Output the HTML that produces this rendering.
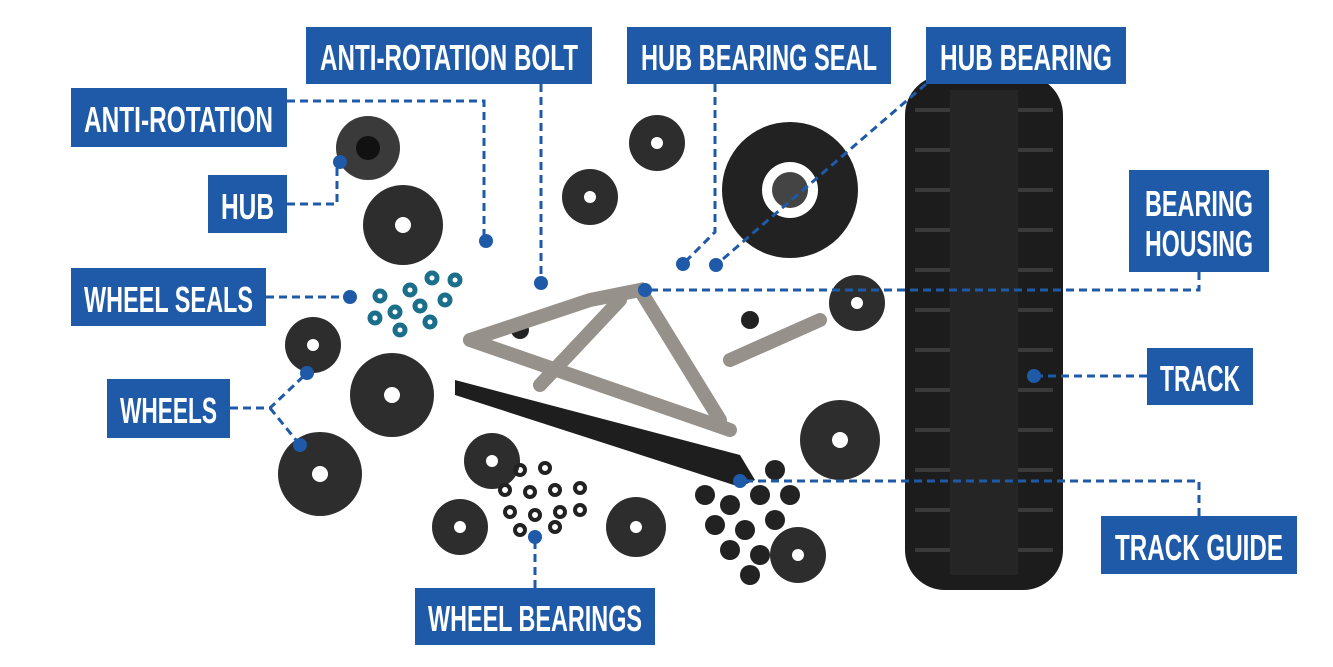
<!DOCTYPE html>
<html><head><meta charset="utf-8"><style>
html,body{margin:0;padding:0;background:#fff;}
svg{display:block}
.lb{font-family:"Liberation Sans Narrow","Liberation Sans",sans-serif;font-weight:bold;font-size:36px;fill:#fff}
.dl{stroke:#1f5aa8;stroke-width:3;stroke-dasharray:8 5;fill:none}
.dot{fill:#1f5aa8}
.bx{fill:#1f5aa8}
</style></head><body>
<svg width="1333" height="667" viewBox="0 0 1333 667" xmlns="http://www.w3.org/2000/svg">
<!-- track -->
<rect x="905" y="75" width="158" height="515" rx="40" fill="#1c1c1c"/>
<g stroke="#3a3a3a" stroke-width="4">
<line x1="915" y1="110" x2="1053" y2="110"/><line x1="915" y1="150" x2="1053" y2="150"/>
<line x1="915" y1="190" x2="1053" y2="190"/><line x1="915" y1="230" x2="1053" y2="230"/>
<line x1="915" y1="270" x2="1053" y2="270"/><line x1="915" y1="310" x2="1053" y2="310"/>
<line x1="915" y1="350" x2="1053" y2="350"/><line x1="915" y1="390" x2="1053" y2="390"/>
<line x1="915" y1="430" x2="1053" y2="430"/><line x1="915" y1="470" x2="1053" y2="470"/>
<line x1="915" y1="510" x2="1053" y2="510"/><line x1="915" y1="550" x2="1053" y2="550"/>
</g>
<rect x="950" y="90" width="68" height="485" fill="#252525"/>
<!-- bearing housing -->
<circle cx="790" cy="190" r="68" fill="#222"/><circle cx="790" cy="190" r="28" fill="#fff"/><circle cx="790" cy="190" r="18" fill="#444"/>
<!-- hub -->
<circle cx="368" cy="148" r="32" fill="#3a3a3a"/><circle cx="368" cy="148" r="12" fill="#111"/>
<!-- wheels -->
<g fill="#2d2d2d">
<circle cx="403" cy="225" r="40"/><circle cx="313" cy="345" r="28"/><circle cx="392" cy="395" r="42"/>
<circle cx="320" cy="474" r="42"/><circle cx="492" cy="461" r="28"/><circle cx="460" cy="527" r="28"/>
<circle cx="590" cy="197" r="28"/><circle cx="657" cy="143" r="28"/><circle cx="636" cy="527" r="30"/>
<circle cx="840" cy="440" r="40"/><circle cx="857" cy="303" r="28"/><circle cx="798" cy="555" r="28"/>
</g>
<g fill="#fff">
<circle cx="403" cy="225" r="8"/><circle cx="313" cy="345" r="6"/><circle cx="392" cy="395" r="8"/>
<circle cx="320" cy="474" r="8"/><circle cx="492" cy="461" r="6"/><circle cx="460" cy="527" r="6"/>
<circle cx="590" cy="197" r="6"/><circle cx="657" cy="143" r="6"/><circle cx="636" cy="527" r="6"/>
<circle cx="840" cy="440" r="8"/><circle cx="857" cy="303" r="6"/><circle cx="798" cy="555" r="6"/>
</g>
<!-- seals -->
<g fill="none" stroke="#1b6f8a" stroke-width="5">
<circle cx="380" cy="296" r="5"/><circle cx="410" cy="290" r="5"/><circle cx="432" cy="278" r="5"/><circle cx="455" cy="280" r="5"/>
<circle cx="395" cy="312" r="5"/><circle cx="420" cy="306" r="5"/><circle cx="445" cy="300" r="5"/><circle cx="375" cy="318" r="5"/>
<circle cx="400" cy="330" r="5"/><circle cx="430" cy="322" r="5"/>
</g>
<!-- wheel bearings -->
<g fill="none" stroke="#222" stroke-width="4">
<circle cx="520" cy="470" r="5"/><circle cx="545" cy="468" r="5"/><circle cx="505" cy="490" r="5"/><circle cx="530" cy="492" r="5"/>
<circle cx="555" cy="490" r="5"/><circle cx="580" cy="488" r="5"/><circle cx="510" cy="512" r="5"/><circle cx="535" cy="515" r="5"/>
<circle cx="560" cy="512" r="5"/><circle cx="580" cy="510" r="5"/><circle cx="520" cy="530" r="5"/><circle cx="555" cy="527" r="5"/>
</g>
<!-- bumpers -->
<g fill="#222">
<circle cx="705" cy="495" r="10"/><circle cx="730" cy="505" r="10"/><circle cx="760" cy="495" r="10"/><circle cx="790" cy="495" r="10"/>
<circle cx="715" cy="525" r="10"/><circle cx="745" cy="530" r="10"/><circle cx="775" cy="520" r="10"/><circle cx="730" cy="550" r="10"/>
<circle cx="760" cy="555" r="10"/><circle cx="750" cy="575" r="10"/><circle cx="775" cy="470" r="10"/><circle cx="520" cy="330" r="9"/><circle cx="750" cy="320" r="9"/>
</g>
<!-- frame -->
<g stroke="#96918b" stroke-width="14" fill="none" stroke-linecap="round">
<path d="M470 340 L590 300 L640 290 L720 420"/>
<path d="M470 340 L730 430"/>
<path d="M540 385 L620 300"/>
<path d="M730 360 L820 320"/>
</g>
<!-- track guide -->
<path d="M455 380 L740 455 L755 480 L740 487 L455 395 Z" fill="#1e1e1e"/>
<!-- connectors -->
<path class="dl" d="M287 101 H484 V241"/>
<path class="dl" d="M541 84 V283"/>
<path class="dl" d="M287 204 H337 V162"/>
<path class="dl" d="M715 84 V232 L683 264"/>
<path class="dl" d="M926 84 L716 265"/>
<path class="dl" d="M1199 272 V290 H645"/>
<path class="dl" d="M266 297 H350"/>
<path class="dl" d="M230 408 H270 L307 373 M270 408 L300 445"/>
<path class="dl" d="M1147 376 H1034"/>
<path class="dl" d="M1199 516 V481 H740"/>
<path class="dl" d="M535 588 V537"/>
<g class="dot">
<circle cx="486" cy="241" r="7"/><circle cx="541" cy="283" r="7"/><circle cx="340" cy="162" r="7"/>
<circle cx="683" cy="264" r="7"/><circle cx="716" cy="265" r="7"/><circle cx="645" cy="290" r="7"/>
<circle cx="350" cy="297" r="7"/><circle cx="307" cy="373" r="7"/><circle cx="300" cy="445" r="7"/>
<circle cx="1034" cy="376" r="7"/><circle cx="740" cy="481" r="7"/><circle cx="535" cy="537" r="7"/>
</g>
<!-- labels -->
<rect class="bx" x="306" y="27" width="286" height="57"/><text class="lb" x="320" y="70" textLength="258" lengthAdjust="spacingAndGlyphs">ANTI-ROTATION BOLT</text>
<rect class="bx" x="627" y="27" width="264" height="57"/><text class="lb" x="641" y="70" textLength="236" lengthAdjust="spacingAndGlyphs">HUB BEARING SEAL</text>
<rect class="bx" x="926" y="27" width="200" height="57"/><text class="lb" x="940" y="70" textLength="172" lengthAdjust="spacingAndGlyphs">HUB BEARING</text>
<rect class="bx" x="71" y="88" width="216" height="59"/><text class="lb" x="84" y="132" textLength="189" lengthAdjust="spacingAndGlyphs">ANTI-ROTATION</text>
<rect class="bx" x="208" y="175" width="79" height="58"/><text class="lb" x="221" y="219" textLength="53" lengthAdjust="spacingAndGlyphs">HUB</text>
<rect class="bx" x="1129" y="170" width="140" height="102"/><text class="lb" x="1145" y="216" textLength="108" lengthAdjust="spacingAndGlyphs">BEARING</text><text class="lb" x="1145" y="256" textLength="108" lengthAdjust="spacingAndGlyphs">HOUSING</text>
<rect class="bx" x="71" y="268" width="195" height="58"/><text class="lb" x="84" y="312" textLength="169" lengthAdjust="spacingAndGlyphs">WHEEL SEALS</text>
<rect class="bx" x="107" y="379" width="123" height="59"/><text class="lb" x="120" y="423" textLength="97" lengthAdjust="spacingAndGlyphs">WHEELS</text>
<rect class="bx" x="1147" y="348" width="106" height="57"/><text class="lb" x="1160" y="391" textLength="80" lengthAdjust="spacingAndGlyphs">TRACK</text>
<rect class="bx" x="1101" y="516" width="196" height="58"/><text class="lb" x="1115" y="560" textLength="168" lengthAdjust="spacingAndGlyphs">TRACK GUIDE</text>
<rect class="bx" x="415" y="588" width="240" height="57"/><text class="lb" x="428" y="631" textLength="214" lengthAdjust="spacingAndGlyphs">WHEEL BEARINGS</text>
</svg>
</body></html>
